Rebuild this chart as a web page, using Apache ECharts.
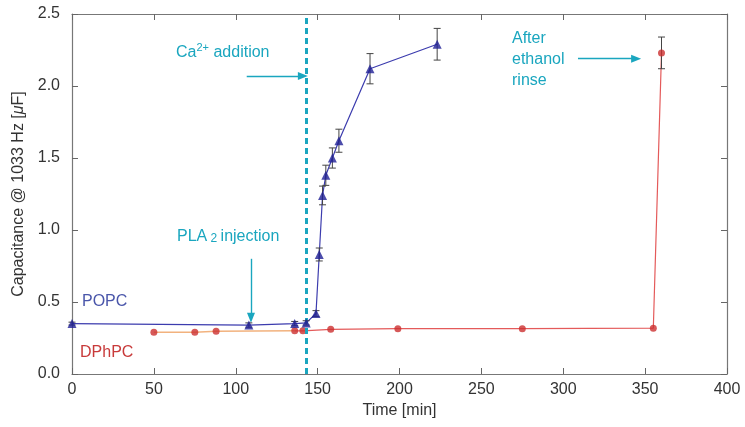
<!DOCTYPE html>
<html>
<head>
<meta charset="utf-8">
<script src="https://cdn.jsdelivr.net/npm/echarts@6/dist/echarts.min.js"></script>
<style>html,body{margin:0;padding:0;background:#fff}#c{width:745px;height:427px}</style>
</head>
<body>
<div id="c"></div>
<script>
// ---- data ----
const popcTime = [0, 108, 136, 143, 149, 151, 153, 155, 159, 163, 182, 223];
const popcCap  = [0.35, 0.34, 0.35, 0.355, 0.42, 0.83, 1.24, 1.38, 1.50, 1.62, 2.12, 2.29];
const popcErr  = [0.01, 0.015, 0.015, 0.015, 0.02, 0.045, 0.065, 0.07, 0.07, 0.08, 0.105, 0.11];
const dphpcTime = [50, 75, 88, 136, 141, 158, 199, 275, 355, 360];
const dphpcCap  = [0.29, 0.29, 0.297, 0.30, 0.30, 0.31, 0.315, 0.315, 0.318, 2.23];
const dphpcErr  = [0, 0, 0, 0, 0, 0, 0, 0, 0, 0.11];
const caAdditionTime = 143;
const xTicks = [0, 50, 100, 150, 200, 250, 300, 350, 400];
const yTicks = [0.0, 0.5, 1.0, 1.5, 2.0, 2.5];
// arrows in data units: [x1, y1, x2, y2]
const caArrow = [106.7, 2.07, 141, 2.07];
const plaArrow = [109.3, 0.80, 109.3, 0.39];
const ethArrow = [309, 2.19, 344.5, 2.19];

const zip = (a, b, c) => a.map((v, i) => c ? [v, b[i], c[i]] : [v, b[i]]);
const popcData = zip(popcTime, popcCap);
const dphpcData = zip(dphpcTime, dphpcCap);
const splitIdx = 3; // orange segment up to 136 min

const teal = '#1aa6bf';
const font = 'Liberation Sans, Arial, sans-serif';

function errRender(params, api) {
  const x = api.value(0), y = api.value(1), e = api.value(2);
  if (!e) return null;
  const t = api.coord([x, y + e]), b = api.coord([x, y - e]);
  const w = 3.5;
  const st = { stroke: '#444', lineWidth: 1 };
  return { type: 'group', children: [
    { type: 'line', shape: { x1: t[0], y1: t[1], x2: b[0], y2: b[1] }, style: st },
    { type: 'line', shape: { x1: t[0] - w, y1: t[1], x2: t[0] + w, y2: t[1] }, style: st },
    { type: 'line', shape: { x1: b[0] - w, y1: b[1], x2: b[0] + w, y2: b[1] }, style: st }
  ]};
}

function arrowLine(a) {
  return [{ coord: [a[0], a[1]] }, { coord: [a[2], a[3]] }];
}

const axisCommon = {
  type: 'value',
  axisLine: { show: true, onZero: false, lineStyle: { color: '#777', width: 1.2 } },
  axisTick: { show: true, inside: true, length: 6, lineStyle: { color: '#666', width: 1 } },
  splitLine: { show: false }
};

const chart = echarts.init(document.getElementById('c'));
chart.setOption({
  backgroundColor: '#fff',
  animation: false,
  grid: { left: 72, right: 18, top: 14, bottom: 53, containLabel: false, outerBoundsMode: 'none' },
  xAxis: [
    Object.assign({}, axisCommon, {
      min: xTicks[0], max: xTicks[xTicks.length - 1], interval: 50, position: 'bottom',
      name: 'Time [min]', nameLocation: 'middle', nameGap: 29,
      nameTextStyle: { fontFamily: font, fontSize: 16, color: '#333' },
      axisLabel: { fontFamily: font, fontSize: 16, color: '#333', margin: 8 }
    }),
    Object.assign({}, axisCommon, {
      min: xTicks[0], max: xTicks[xTicks.length - 1], interval: 50, position: 'top',
      axisLabel: { show: false }
    })
  ],
  yAxis: [
    Object.assign({}, axisCommon, {
      min: yTicks[0], max: yTicks[yTicks.length - 1], interval: 0.5, position: 'left',
      name: 'Capacitance @ 1033 Hz [{i|μ}F]', nameLocation: 'middle', nameGap: 45,
      nameTextStyle: { fontFamily: font, fontSize: 16, color: '#333',
        rich: { i: { fontFamily: font, fontSize: 16, fontStyle: 'italic', color: '#333' } } },
      axisLabel: { fontFamily: font, fontSize: 16, color: '#333', margin: 12,
        formatter: v => v.toFixed(1) }
    }),
    Object.assign({}, axisCommon, {
      min: yTicks[0], max: yTicks[yTicks.length - 1], interval: 0.5, position: 'right',
      axisLabel: { show: false }
    })
  ],
  series: [
    {
      type: 'line', name: 'DPhPC early', data: dphpcData.slice(0, splitIdx + 1),
      showSymbol: false, symbol: 'none',
      lineStyle: { color: '#f2b27e', width: 1.4 }, z: 2
    },
    {
      type: 'line', name: 'DPhPC', data: dphpcData.slice(splitIdx),
      showSymbol: false, symbol: 'none',
      lineStyle: { color: '#e45a5a', width: 1.2 }, z: 2
    },
    {
      type: 'custom', name: 'DPhPC err', renderItem: errRender,
      data: zip(dphpcTime, dphpcCap, dphpcErr), z: 3
    },
    {
      type: 'scatter', name: 'DPhPC pts', data: dphpcData,
      symbol: 'circle', symbolSize: 7,
      itemStyle: { color: '#cc2f2f' }, z: 4
    },
    {
      type: 'line', name: 'POPC', data: popcData,
      symbol: 'none', lineStyle: { color: '#3c3cae', width: 1.2 }, z: 5
    },
    {
      type: 'custom', name: 'POPC err', renderItem: errRender,
      data: zip(popcTime, popcCap, popcErr), z: 6
    },
    {
      type: 'scatter', name: 'POPC pts', data: popcData,
      symbol: 'triangle', symbolSize: 9,
      itemStyle: { color: '#1f1f96' }, z: 7
    },
    {
      type: 'line', name: 'annotations', data: [], z: 8,
      markLine: {
        silent: true, animation: false,
        label: { show: false },
        data: [
          [{ coord: [caAdditionTime, yTicks[0]], symbol: 'none', lineStyle: { type: [6, 4], width: 3, color: teal } },
           { coord: [caAdditionTime, yTicks[yTicks.length - 1]], symbol: 'none' }],
          arrowLine(caArrow), arrowLine(plaArrow), arrowLine(ethArrow)
        ],
        symbol: ['none', 'triangle'], symbolSize: [8, 10],
        lineStyle: { type: 'solid', color: teal, width: 1.4 }
      }
    }
  ],
  graphic: [
    { type: 'text', left: 176, top: 42, style: {
      text: 'Ca{sup|2+} addition', fill: teal, font: '16px ' + font,
      rich: { sup: { fontSize: 11, fontFamily: font, fill: teal, verticalAlign: 'top', lineHeight: 22 } } } },
    { type: 'text', left: 177, top: 229, style: {
      text: 'PLA{sub| 2 }injection', fill: teal, font: '16px ' + font,
      rich: { sub: { fontSize: 12, fontFamily: font, fill: teal, verticalAlign: 'bottom', lineHeight: 10 } } } },
    { type: 'text', left: 512, top: 28, style: {
      text: 'After\nethanol\nrinse', fill: teal, font: '16px ' + font, lineHeight: 21 } },
    { type: 'text', left: 82, top: 294, style: { text: 'POPC', fill: '#4a56aa', font: '16px ' + font } },
    { type: 'text', left: 80, top: 345, style: { text: 'DPhPC', fill: '#c83a3a', font: '16px ' + font } }
  ]
});
</script>
</body>
</html>
